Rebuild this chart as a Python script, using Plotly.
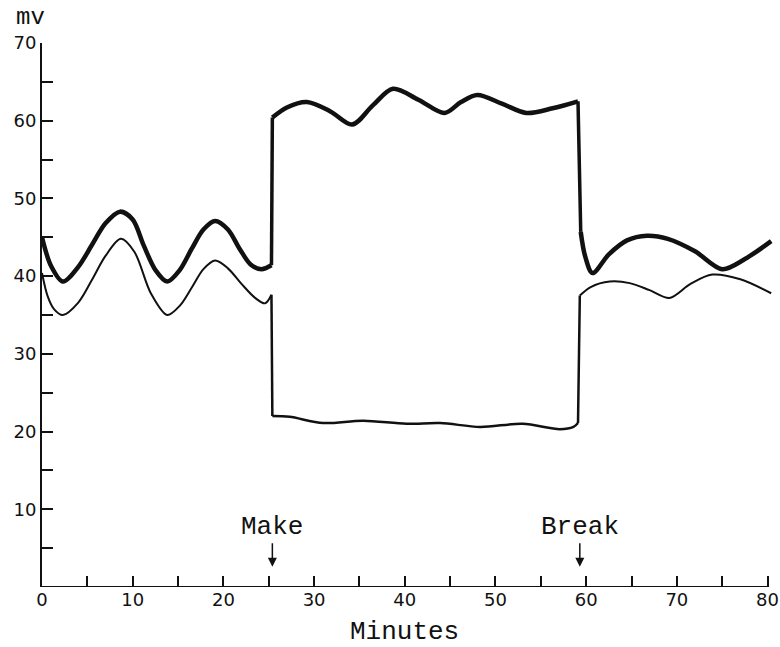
import plotly.graph_objects as go

# ---- data (minutes, mV) ----
upper_before_x = [0, 1.0, 2.3, 4.0, 5.5, 7.0, 8.6, 10.0, 11.2, 12.5, 13.8, 15.2, 16.5, 17.8, 19.1, 20.5, 21.8, 23.0, 24.2, 25.3]
upper_before_y = [45.0, 41.3, 39.3, 41.2, 44.0, 46.8, 48.3, 47.3, 44.0, 40.8, 39.3, 40.8, 43.5, 46.0, 47.1, 46.0, 43.5, 41.5, 40.9, 41.4]

lower_before_x = [0, 0.6, 1.3, 2.3, 4.0, 5.5, 7.0, 8.7, 10.2, 12.0, 13.8, 15.2, 16.5, 17.8, 19.1, 20.5, 22.0, 23.5, 24.6, 25.3]
lower_before_y = [40.4, 37.5, 35.8, 35.0, 36.6, 39.5, 42.6, 44.8, 43.1, 37.8, 35.0, 36.2, 38.5, 40.9, 42.0, 41.0, 39.0, 37.2, 36.5, 37.6]

upper_during_x = [25.4, 27.0, 29.2, 31.8, 34.2, 36.5, 38.7, 41.5, 44.4, 46.2, 48.0, 50.7, 53.4, 56.3, 59.1]
upper_during_y = [60.4, 61.7, 62.4, 61.2, 59.5, 62.0, 64.1, 62.7, 61.0, 62.4, 63.3, 62.2, 61.0, 61.6, 62.5]

lower_during_x = [25.4, 27.3, 31.0, 35.4, 40.2, 43.9, 48.3, 53.0, 57.1, 58.6, 59.1]
lower_during_y = [22.0, 21.9, 21.1, 21.4, 21.0, 21.1, 20.6, 21.0, 20.3, 20.6, 21.1]

upper_after_x = [59.4, 59.9, 60.7, 62.5, 64.5, 66.7, 69.0, 72.0, 75.0, 77.5, 80.4]
upper_after_y = [45.7, 42.5, 40.4, 42.8, 44.6, 45.2, 44.8, 43.2, 40.9, 42.2, 44.5]

lower_after_x = [59.3, 60.5, 62.6, 64.8, 67.0, 69.2, 71.5, 73.9, 77.0, 80.4]
lower_after_y = [37.5, 38.6, 39.3, 39.1, 38.2, 37.2, 39.0, 40.2, 39.6, 37.8]

x_labels = [0, 10, 20, 30, 40, 50, 60, 70, 80]
y_labels = [10, 20, 30, 40, 50, 60, 70]
make_time = 25.4
break_time = 59.3

INK = "#111111"
THICK = 4.5
THIN = 2.0

fig = go.Figure()

def curve(x, y, w):
    fig.add_trace(go.Scatter(x=x, y=y, mode="lines",
                             line=dict(color=INK, width=w, shape="spline", smoothing=0.9),
                             hoverinfo="skip", showlegend=False))

def jump(x0, y0, x1, y1, w):
    fig.add_trace(go.Scatter(x=[x0, x1], y=[y0, y1], mode="lines",
                             line=dict(color=INK, width=w),
                             hoverinfo="skip", showlegend=False))

curve(upper_before_x, upper_before_y, THICK)
curve(lower_before_x, lower_before_y, THIN)
curve(upper_during_x, upper_during_y, THICK)
curve(lower_during_x, lower_during_y, 2.5)
curve(upper_after_x, upper_after_y, THICK)
curve(lower_after_x, lower_after_y, THIN)

jump(upper_before_x[-1], upper_before_y[-1], upper_during_x[0], upper_during_y[0], 3.5)
jump(lower_before_x[-1], lower_before_y[-1], lower_during_x[0], lower_during_y[0], 2.5)
jump(upper_during_x[-1], upper_during_y[-1], upper_after_x[0], upper_after_y[0], 3.5)
jump(lower_during_x[-1], lower_during_y[-1], lower_after_x[0], lower_after_y[0], 2.5)

num_font = dict(family="DejaVu Sans", size=18, color=INK)
word_font = dict(family="Liberation Mono", size=26, color=INK)

fig.update_layout(
    width=780, height=647,
    margin=dict(l=42, r=7, t=43, b=60, autoexpand=False),
    paper_bgcolor="white", plot_bgcolor="white",
    xaxis=dict(range=[0, 80.6], showgrid=False, zeroline=False, showline=False, automargin=False,
               tickvals=x_labels, ticktext=[str(v) for v in x_labels],
               ticks="inside", ticklen=11, tickwidth=1.5, tickcolor=INK,
               minor=dict(dtick=5, tick0=0, ticks="inside", ticklen=11, tickwidth=1.5, tickcolor=INK),
               tickfont=num_font),
    yaxis=dict(range=[0, 70], showgrid=False, zeroline=False, showline=True, automargin=False,
               linecolor=INK, linewidth=2,
               tickvals=y_labels, ticktext=[str(v) for v in y_labels],
               ticks="inside", ticklen=11, tickwidth=1.5, tickcolor=INK,
               minor=dict(dtick=5, tick0=0, ticks="inside", ticklen=11, tickwidth=1.5, tickcolor=INK),
               tickfont=num_font),
)

# x axis baseline spanning 0..80
fig.add_shape(type="line", xref="x", yref="y", x0=x_labels[0], x1=x_labels[-1], y0=0, y1=0,
              line=dict(color=INK, width=2))

fig.add_annotation(x=make_time, y=2.6, xref="x", yref="y", text="Make", font=word_font,
                   showarrow=True, arrowhead=2, arrowsize=1.2, arrowwidth=1.5, arrowcolor=INK,
                   ax=0, ay=-40, standoff=0)
fig.add_annotation(x=break_time, y=2.6, xref="x", yref="y", text="Break", font=word_font,
                   showarrow=True, arrowhead=2, arrowsize=1.2, arrowwidth=1.5, arrowcolor=INK,
                   ax=0, ay=-40, standoff=0)
fig.add_annotation(x=40, y=0, xref="x", yref="y", text="Minutes", font=word_font,
                   showarrow=False, yanchor="middle", yshift=-45, borderpad=0)
fig.add_annotation(x=0, y=70, xref="x", yref="y", text="mv", font=dict(family="Liberation Mono", size=24, color=INK),
                   showarrow=False, xanchor="center", yanchor="middle", xshift=-12, yshift=26, borderpad=0)

# remove the default page margin so the figure sits at the window's top-left corner
fig.write_html("out.html", config={"displayModeBar": False},
               post_script="document.body.style.margin='0';document.body.style.overflow='hidden';")
